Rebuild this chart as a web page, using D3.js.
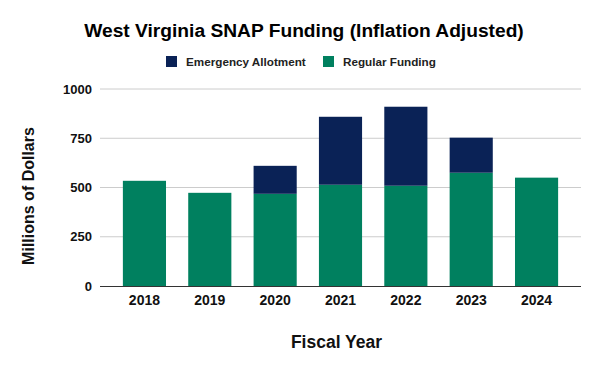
<!DOCTYPE html>
<html>
<head>
<meta charset="utf-8">
<script src="https://cdn.jsdelivr.net/npm/d3@7"></script>
<style>
  body { margin: 0; background: #fff; }
  text { font-family: "Liberation Sans", Arial, sans-serif; }
</style>
</head>
<body>
<div id="chart"></div>
<script>
// data (millions of dollars)
var years = ["2018", "2019", "2020", "2021", "2022", "2023", "2024"];
var regular = [534, 473, 468, 514, 509, 575, 550];
var emergency = [0, 0, 142, 345, 401, 178, 0];
var yTicks = [0, 250, 500, 750, 1000];
var seriesNames = ["Emergency Allotment", "Regular Funding"];
var colors = {"Emergency Allotment": "#0a2256", "Regular Funding": "#00805f"};

var W = 600, H = 371;
var margin = {top: 89, right: 19, bottom: 85, left: 100};
var width = W - margin.left - margin.right,
    height = H - margin.top - margin.bottom;

var svg = d3.select("#chart").append("svg")
    .attr("width", W).attr("height", H);

// title
svg.append("text")
  .attr("x", 304).attr("y", 37)
  .attr("text-anchor", "middle")
  .attr("font-size", 19.2).attr("font-weight", "bold")
  .text("West Virginia SNAP Funding (Inflation Adjusted)");

// legend
var legendX = [166, 323];
seriesNames.forEach(function(name, i){
  svg.append("rect")
    .attr("x", legendX[i]).attr("y", 56)
    .attr("width", 11).attr("height", 11)
    .attr("fill", colors[name]);
  svg.append("text")
    .attr("x", legendX[i] + 20).attr("y", 66)
    .attr("font-size", 11.7).attr("font-weight", "bold")
    .attr("fill", "#222")
    .text(name);
});

var g = svg.append("g")
    .attr("transform", `translate(${margin.left},${margin.top})`);

var x = d3.scaleBand().domain(years).range([0, width])
    .paddingInner(0.34).paddingOuter(0.35);
var y = d3.scaleLinear().domain([0, 1000]).range([height, 0]);

// gridlines
g.selectAll(".grid").data(yTicks.slice(1)).enter().append("line")
  .attr("x1", 0).attr("x2", width)
  .attr("y1", function(d){ return y(d); })
  .attr("y2", function(d){ return y(d); })
  .attr("stroke", "#cccccc").attr("stroke-width", 1);

// y tick labels
var yAxis = d3.axisLeft(y).tickValues(yTicks).tickFormat(d3.format("d"))
    .tickSize(0).tickPadding(8);
g.append("g").call(yAxis)
  .call(function(s){ s.select(".domain").remove(); })
  .selectAll("text")
    .attr("font-size", 13).attr("font-weight", "bold").attr("fill", "#111");

// stacked bars
var rows = years.map(function(yr, i){
  return {year: yr, "Regular Funding": regular[i], "Emergency Allotment": emergency[i]};
});
var stack = d3.stack().keys(["Regular Funding", "Emergency Allotment"])(rows);

g.selectAll(".series").data(stack).enter().append("g")
  .attr("fill", function(d){ return colors[d.key]; })
  .selectAll("rect").data(function(d){ return d; }).enter().append("rect")
    .attr("x", function(d){ return x(d.data.year); })
    .attr("width", x.bandwidth())
    .attr("y", function(d){ return y(d[1]); })
    .attr("height", function(d){ return y(d[0]) - y(d[1]); });

// x axis
var xAxis = d3.axisBottom(x).tickSize(0).tickPadding(9);
g.append("g").attr("transform", `translate(0,${height})`).call(xAxis)
  .call(function(s){ s.select(".domain").remove(); })
  .selectAll("text")
    .attr("font-size", 14).attr("font-weight", "bold").attr("fill", "#111");

g.append("line")
  .attr("x1", 0).attr("x2", width)
  .attr("y1", height + 0.5).attr("y2", height + 0.5)
  .attr("stroke", "#333").attr("stroke-width", 1.2);

// axis titles
svg.append("text")
  .attr("x", margin.left + width / 2 - 4).attr("y", 348)
  .attr("text-anchor", "middle")
  .attr("font-size", 17.5).attr("font-weight", "bold").attr("fill", "#111")
  .text("Fiscal Year");

svg.append("text")
  .attr("transform", "translate(34,196) rotate(-90)")
  .attr("text-anchor", "middle")
  .attr("font-size", 16).attr("font-weight", "bold").attr("fill", "#111")
  .text("Millions of Dollars");
</script>
</body>
</html>
